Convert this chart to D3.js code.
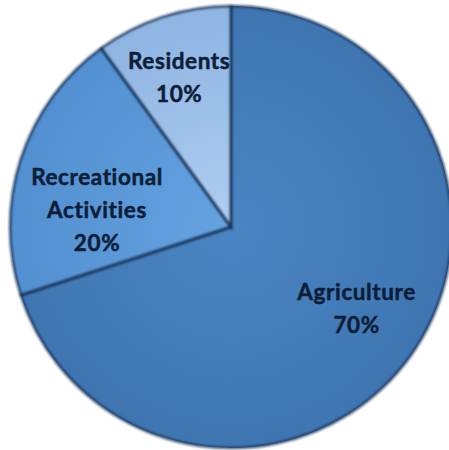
<!DOCTYPE html>
<html>
<head>
<meta charset="utf-8">
<script src="https://cdn.jsdelivr.net/npm/d3@7"></script>
<style>
  body { margin: 0; background: #fff; }
  svg { display: block; }
</style>
</head>
<body>
<script>
// Datos del gráfico
const categorias = ["Agriculture", "Recreational Activities", "Residents"];
const porcentajes = [70, 20, 10];
const lineasEtiqueta = [["Agriculture"], ["Recreational", "Activities"], ["Residents"]];
const coloresCentro = ["#4a84c2", "#65a2e0", "#b0cdf0"];
const coloresBorde = ["#3f76b2", "#5390d1", "#8eb4e2"];

const WIDTH = 449;
const HEIGHT = 450;
const CX = 231;
const CY = 227;
const RADIO = 221;

const svg = d3.select("body")
  .append("svg")
  .attr("width", WIDTH)
  .attr("height", HEIGHT);

const defs = svg.append("defs");

// Gradiente radial por porción (más claro al centro, más oscuro al borde)
categorias.forEach((c, i) => {
  const g = defs.append("radialGradient")
    .attr("id", "grad" + i)
    .attr("gradientUnits", "userSpaceOnUse")
    .attr("cx", 0).attr("cy", 0).attr("r", RADIO);
  g.append("stop").attr("offset", "0%").attr("stop-color", coloresCentro[i]);
  g.append("stop").attr("offset", "100%").attr("stop-color", coloresBorde[i]);
});

defs.append("filter").attr("id", "blur")
  .append("feGaussianBlur").attr("stdDeviation", 1.3);

const contenedor = svg.append("g")
  .attr("transform", `translate(${CX}, ${CY})`);

const pie = d3.pie().sort(null).value((d) => d);
const arcos = pie(porcentajes);

const arco = d3.arc().innerRadius(0).outerRadius(RADIO);

contenedor.selectAll("path.slice")
  .data(arcos)
  .join("path")
  .attr("class", "slice")
  .attr("d", arco)
  .attr("fill", (d, i) => `url(#grad${i})`);

// Bordes oscuros difuminados (efecto bisel)
contenedor.append("g")
  .attr("filter", "url(#blur)")
  .selectAll("path")
  .data(arcos)
  .join("path")
  .attr("d", arco)
  .attr("fill", "none")
  .attr("stroke", "#132a4c")
  .attr("stroke-opacity", 0.8)
  .attr("stroke-width", 2.5);

// Etiquetas
const arcoEtiqueta = d3.arc().innerRadius(150).outerRadius(150);
const ajusteAngulo = [-0.05, -0.19, -0.02];
const ajusteRadio = [150, 135, 158];

const etiquetas = contenedor.selectAll("text.etiqueta")
  .data(arcos)
  .join("text")
  .attr("class", "etiqueta")
  .attr("text-anchor", "middle")
  .attr("font-family", "Lato, 'Open Sans', sans-serif")
  .attr("font-weight", "bold")
  .attr("font-size", 22.5)
  .attr("letter-spacing", 0.6)
  .attr("fill", "#0d1e38")
  .attr("stroke", "#0d1e38")
  .attr("stroke-width", 0.5)
  .style("font-variant-ligatures", "none")
  .attr("transform", (d, i) => {
    const a = (d.startAngle + d.endAngle) / 2 + ajusteAngulo[i];
    const r = ajusteRadio[i];
    return `translate(${Math.sin(a) * r}, ${-Math.cos(a) * r})`;
  });

etiquetas.each(function (d, i) {
  const lineas = lineasEtiqueta[i].concat([porcentajes[i] + "%"]);
  const n = lineas.length;
  d3.select(this).selectAll("tspan")
    .data(lineas)
    .join("tspan")
    .attr("x", 0)
    .attr("y", (l, j) => (j - (n - 1) / 2) * 33 + 8)
    .text((l) => l);
});
</script>
</body>
</html>
